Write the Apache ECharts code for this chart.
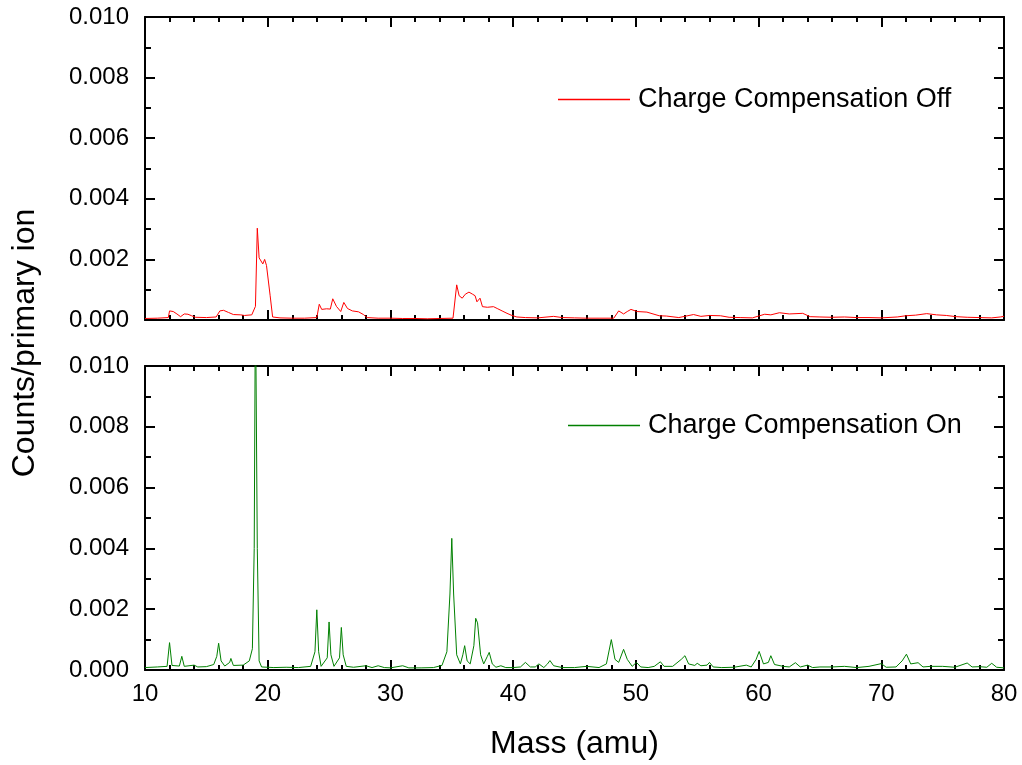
<!DOCTYPE html>
<html>
<head>
<meta charset="utf-8">
<script src="https://cdn.jsdelivr.net/npm/echarts@6/dist/echarts.min.js"></script>
<style>
    html, body { margin: 0; padding: 0; background: #fff; }
    #main { width: 1022px; height: 765px; }
</style>
</head>
<body>
<div id="main"></div>
<script>
// 数据：质量 (amu) 与 计数/初级离子
var massOff = [10.0, 11.0, 11.9, 12.0, 12.3, 12.6, 12.9, 13.2, 13.5, 13.8, 14.1, 15.0, 15.8, 16.1, 16.4, 16.8, 17.2, 17.8, 18.1, 18.7,
    19.0, 19.15, 19.3, 19.45, 19.6, 19.75, 19.9, 20.0, 20.2, 20.4, 21, 22, 23, 24.0, 24.2, 24.4, 24.8, 25.1, 25.3, 25.6,
    25.95, 26.2, 26.5, 26.9, 27.4, 27.8, 28.1, 29, 30, 31, 32, 33, 34, 35.1, 35.4, 35.6, 35.85, 36.1, 36.4, 36.7,
    36.9, 37.05, 37.3, 37.5, 37.9, 38.4, 38.7, 39.1, 39.5, 39.9, 40.3, 41, 42, 43.3, 44, 45, 46, 47, 48.2, 48.6,
    49.0, 49.3, 49.6, 50.1, 50.9, 51.9, 52.5, 53.5, 54.7, 55.3, 56.0, 56.9, 57.6, 58.5, 59.5, 60.5, 61.0, 61.7, 62.5, 63.6,
    64.2, 65, 66, 67, 68, 69, 70, 71.3, 72, 72.8, 73.7, 74.5, 75.3, 76.1, 77, 78, 79, 79.7, 80];
var countsOff = [0.00005, 0.00006, 0.00008, 0.00030, 0.00028, 0.00020, 0.00011, 0.00020, 0.00019, 0.00014, 0.00009, 0.00008, 0.00010, 0.00030, 0.00032, 0.00025, 0.00018, 0.00017, 0.00015, 0.00017,
    0.00045, 0.00303, 0.00205, 0.00210, 0.00185, 0.00200, 0.00180, 0.00175, 0.00080, 0.00010, 0.00007, 0.00006, 0.00006, 0.00008, 0.00052, 0.00035, 0.00037, 0.00036, 0.00070, 0.00045,
    0.00028, 0.00058, 0.00038, 0.00030, 0.00027, 0.00018, 0.00008, 0.00006, 0.00006, 0.00005, 0.00005, 0.00004, 0.00005, 0.00006, 0.00116, 0.00080, 0.00072, 0.00085, 0.00092, 0.00085,
    0.00080, 0.00060, 0.00072, 0.00044, 0.00042, 0.00044, 0.00038, 0.00030, 0.00022, 0.00015, 0.00010, 0.00008, 0.00007, 0.00012, 0.00008, 0.00007, 0.00006, 0.00006, 0.00006, 0.00030,
    0.00020, 0.00028, 0.00035, 0.00028, 0.00026, 0.00014, 0.00013, 0.00008, 0.00018, 0.00012, 0.00015, 0.00014, 0.00009, 0.00008, 0.00007, 0.00019, 0.00017, 0.00024, 0.00020, 0.00022,
    0.00011, 0.00010, 0.00009, 0.00010, 0.00008, 0.00008, 0.00007, 0.00010, 0.00014, 0.00016, 0.00021, 0.00017, 0.00015, 0.00011, 0.00009, 0.00008, 0.00007, 0.00010, 0.00012];

var massOn = [10.0, 11.0, 11.8, 12.0, 12.2, 12.8, 13.0, 13.2, 14.0, 14.3, 15.0, 15.6, 15.85, 16.0, 16.2, 16.5, 16.9, 17.0, 17.2, 18.0,
    18.5, 18.75, 18.9, 19.0, 19.15, 19.3, 19.5, 20.5, 21.5, 22.5, 23.5, 23.85, 24.0, 24.15, 24.35, 24.85, 25.0, 25.15, 25.4, 25.85,
    26.0, 26.15, 26.4, 27.0, 28.0, 28.5, 29.0, 29.5, 30.0, 31.0, 31.5, 32.5, 33.5, 34.2, 34.6, 34.85, 35.0, 35.15, 35.4, 35.7,
    35.9, 36.05, 36.25, 36.5, 36.8, 36.95, 37.1, 37.35, 37.6, 37.9, 38.05, 38.3, 38.6, 39.0, 39.4, 40.0, 40.6, 41.0, 41.4, 41.8,
    42.1, 42.5, 42.8, 43.0, 43.3, 44.0, 45.0, 46.0, 47.0, 47.6, 48.0, 48.3, 48.6, 49.0, 49.3, 49.7, 50.05, 50.4, 51.0, 51.5,
    52.0, 52.3, 53.0, 53.7, 54.0, 54.3, 54.8, 55.0, 55.3, 55.8, 56.0, 56.3, 57.0, 58.0, 59.0, 59.4, 59.8, 60.05, 60.4, 60.8,
    61.0, 61.3, 62.0, 62.5, 63.0, 63.4, 64.0, 64.4, 65.0, 66.0, 67.0, 68.0, 69.0, 70.0, 70.4, 71.2, 71.7, 72.05, 72.4, 73.0,
    73.4, 74.0, 75.0, 76.0, 77.0, 77.4, 78.0, 78.6, 79.0, 79.4, 80.0];
var countsOn = [0.00008, 0.00010, 0.00012, 0.00090, 0.00015, 0.00013, 0.00045, 0.00012, 0.00016, 0.00010, 0.00011, 0.00018, 0.00045, 0.00088, 0.00030, 0.00013, 0.00025, 0.00038, 0.00015, 0.00016,
    0.00030, 0.00070, 0.00400, 0.01250, 0.00400, 0.00030, 0.00010, 0.00008, 0.00009, 0.00008, 0.00012, 0.00060, 0.00198, 0.00060, 0.00012, 0.00040, 0.00158, 0.00050, 0.00012, 0.00040,
    0.00140, 0.00050, 0.00012, 0.00009, 0.00014, 0.00008, 0.00014, 0.00008, 0.00007, 0.00014, 0.00007, 0.00007, 0.00008, 0.00015, 0.00060, 0.00250, 0.00433, 0.00250, 0.00050, 0.00020,
    0.00050, 0.00080, 0.00030, 0.00020, 0.00080, 0.00170, 0.00155, 0.00050, 0.00020, 0.00045, 0.00058, 0.00020, 0.00009, 0.00014, 0.00008, 0.00008, 0.00010, 0.00025, 0.00010, 0.00010,
    0.00020, 0.00008, 0.00020, 0.00031, 0.00014, 0.00008, 0.00008, 0.00012, 0.00008, 0.00020, 0.00100, 0.00035, 0.00025, 0.00068, 0.00035, 0.00012, 0.00025, 0.00010, 0.00008, 0.00012,
    0.00027, 0.00012, 0.00012, 0.00035, 0.00047, 0.00020, 0.00015, 0.00022, 0.00014, 0.00016, 0.00025, 0.00010, 0.00008, 0.00009, 0.00016, 0.00010, 0.00035, 0.00061, 0.00020, 0.00025,
    0.00047, 0.00018, 0.00012, 0.00010, 0.00024, 0.00010, 0.00016, 0.00008, 0.00010, 0.00010, 0.00012, 0.00008, 0.00012, 0.00021, 0.00009, 0.00010, 0.00030, 0.00052, 0.00020, 0.00024,
    0.00010, 0.00012, 0.00012, 0.00009, 0.00023, 0.00010, 0.00011, 0.00009, 0.00022, 0.00009, 0.00007];

var nameOff = 'Charge Compensation Off';
var nameOn = 'Charge Compensation On';
var colorOff = '#ff0000';
var colorOn = '#008000';

function pairs(xs, ys) {
    var out = [];
    for (var i = 0; i < xs.length; i++) {
        out.push([xs[i], ys[i]]);
    }
    return out;
}

var FONT = 'Liberation Sans, Arial, sans-serif';

// 底部/顶部 x 轴
function xAxisOf(grid, pos, showLabel) {
    return {
        type: 'value',
        gridIndex: grid,
        position: pos,
        min: 10,
        max: 80,
        interval: 10,
        axisLine: { show: true, onZero: false, lineStyle: { color: '#000', width: 2 } },
        axisTick: { show: true, inside: true, length: 10, lineStyle: { color: '#000', width: 2 } },
        minorTick: { show: true, splitNumber: 5, length: 5, lineStyle: { color: '#000', width: 2 } },
        splitLine: { show: false },
        axisLabel: { show: showLabel, color: '#000', fontSize: 24, fontFamily: FONT, margin: 12 }
    };
}

// 左/右 y 轴
function yAxisOf(grid, pos, showLabel) {
    return {
        type: 'value',
        gridIndex: grid,
        position: pos,
        min: 0,
        max: 0.010,
        interval: 0.002,
        axisLine: { show: true, onZero: false, lineStyle: { color: '#000', width: 2 } },
        axisTick: { show: true, inside: true, length: 10, lineStyle: { color: '#000', width: 2 } },
        minorTick: { show: true, splitNumber: 2, length: 6, lineStyle: { color: '#000', width: 2 } },
        splitLine: { show: false },
        axisLabel: {
            show: showLabel, color: '#000', fontSize: 24, fontFamily: FONT, margin: 16,
            formatter: function (v) { return v.toFixed(3); }
        }
    };
}

// 图例：只画一条细线
function legendOf(name, color, left, top) {
    return {
        data: [{ name: name, icon: 'rect', itemStyle: { color: color, borderWidth: 0 } }],
        left: left,
        top: top,
        padding: 0,
        itemWidth: 72,
        itemHeight: 1.5,
        textStyle: { color: '#000', fontSize: 27, fontFamily: FONT, padding: [0, 0, 0, 3] }
    };
}

var myChart = echarts.init(document.getElementById('main'), null, { renderer: 'canvas' });

var xs = [xAxisOf(0, 'bottom', false), xAxisOf(0, 'top', false), xAxisOf(1, 'bottom', true), xAxisOf(1, 'top', false)];
xs[2].name = 'Mass (amu)';
xs[2].nameLocation = 'middle';
xs[2].nameGap = 58;
xs[2].nameTextStyle = { color: '#000', fontSize: 32, fontFamily: FONT };

var option = {
    backgroundColor: '#fff',
    animation: false,
    grid: [
        { left: 145, right: 18, top: 17, height: 303 },
        { left: 145, right: 18, top: 366, height: 304 }
    ],
    xAxis: xs,
    yAxis: [yAxisOf(0, 'left', true), yAxisOf(0, 'right', false), yAxisOf(1, 'left', true), yAxisOf(1, 'right', false)],
    legend: [
        legendOf(nameOff, colorOff, 558, 86),
        legendOf(nameOn, colorOn, 568, 412)
    ],
    graphic: [{
        type: 'text',
        x: 25,
        y: 343,
        rotation: Math.PI / 2,
        style: {
            text: 'Counts/primary ion',
            fill: '#000',
            font: '32px ' + FONT,
            align: 'center',
            verticalAlign: 'middle'
        }
    }],
    series: [
        {
            name: nameOff,
            type: 'line',
            xAxisIndex: 0,
            yAxisIndex: 0,
            symbol: 'none',
            clip: true,
            itemStyle: { color: colorOff },
            lineStyle: { color: colorOff, width: 1 },
            data: pairs(massOff, countsOff)
        },
        {
            name: nameOn,
            type: 'line',
            xAxisIndex: 2,
            yAxisIndex: 2,
            symbol: 'none',
            clip: true,
            itemStyle: { color: colorOn },
            lineStyle: { color: colorOn, width: 1 },
            data: pairs(massOn, countsOn)
        }
    ]
};

myChart.setOption(option);
</script>
</body>
</html>
